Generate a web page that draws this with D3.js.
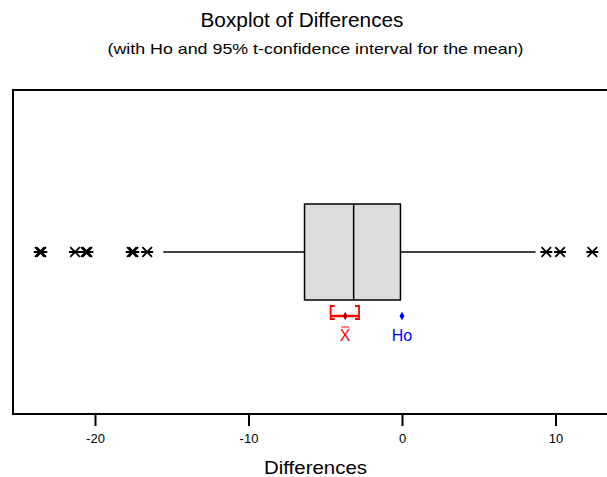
<!DOCTYPE html>
<html>
<head>
<meta charset="utf-8">
<script src="https://cdn.jsdelivr.net/npm/d3@7"></script>
<style>
  html, body { margin: 0; padding: 0; background: #fff; }
  svg { display: block; font-family: "Liberation Sans", Arial, sans-serif; }
</style>
</head>
<body>
<svg id="chart" width="607" height="477"></svg>
<script>
// Five-number summary of the differences
const quartiles = [-6.35, -3.15, -0.1];      // Q1, median, Q3
const whiskers = [-15.55, 8.7];              // lower and upper whisker ends
const outliersLow = [-23.6, -23.5, -21.3, -20.6, -20.5, -17.6, -17.5, -16.6];
const outliersHigh = [9.4, 10.3, 12.4];
// Mean with its 95% t-confidence interval, and the hypothesised mean
const meanValue = [-3.7];
const ciBounds = [-4.65, -2.8];
const hoValue = [0];
const tickValues = [-20, -10, 0, 10];

const svg = d3.select("#chart");

const frame = { left: 13, top: 90, right: 614, bottom: 414 };
const x = d3.scaleLinear().domain([-20, 10]).range([95, 555.5]);
const yBox = 252, boxHalf = 48, yCI = 316;

// Titles
svg.append("text").attr("x", 302).attr("y", 27).attr("text-anchor", "middle")
  .attr("font-size", 20.5).attr("textLength", 203).attr("lengthAdjust", "spacingAndGlyphs")
  .text("Boxplot of Differences");
svg.append("text").attr("x", 315.5).attr("y", 54).attr("text-anchor", "middle")
  .attr("font-size", 15).attr("textLength", 416).attr("lengthAdjust", "spacingAndGlyphs")
  .text("(with Ho and 95% t-confidence interval for the mean)");

// Plot frame
svg.append("rect")
  .attr("x", frame.left).attr("y", frame.top)
  .attr("width", frame.right - frame.left).attr("height", frame.bottom - frame.top)
  .attr("fill", "none").attr("stroke", "#000").attr("stroke-width", 2);

// Bottom axis
const axis = d3.axisBottom(x).tickValues(tickValues).tickSize(12).tickPadding(8)
  .tickFormat(d => String(d));
const gAxis = svg.append("g").attr("transform", `translate(0,${frame.bottom})`).call(axis);
gAxis.select(".domain").remove();
gAxis.selectAll(".tick line").attr("stroke-width", 2);
gAxis.selectAll(".tick text").attr("font-size", 13)
  .attr("font-family", "'Liberation Sans', Arial, sans-serif").attr("fill", "#000");

svg.append("text").attr("x", 315.5).attr("y", 474).attr("text-anchor", "middle")
  .attr("font-size", 19).attr("textLength", 103).attr("lengthAdjust", "spacingAndGlyphs")
  .text("Differences");

// Whiskers
const whiskerLines = [[whiskers[0], quartiles[0]], [quartiles[2], whiskers[1]]];
svg.selectAll(".whisker").data(whiskerLines).enter().append("line")
  .attr("class", "whisker")
  .attr("x1", d => x(d[0])).attr("x2", d => x(d[1]))
  .attr("y1", yBox).attr("y2", yBox)
  .attr("stroke", "#000").attr("stroke-width", 1.5);

// Box
svg.append("rect")
  .attr("x", x(quartiles[0])).attr("y", yBox - boxHalf)
  .attr("width", x(quartiles[2]) - x(quartiles[0])).attr("height", boxHalf * 2)
  .attr("fill", "#dcdcdc").attr("stroke", "#000").attr("stroke-width", 1.5);
svg.append("line")
  .attr("x1", x(quartiles[1])).attr("x2", x(quartiles[1]))
  .attr("y1", yBox - boxHalf).attr("y2", yBox + boxHalf)
  .attr("stroke", "#000").attr("stroke-width", 1.5);

// Outlier asterisks
function star(g, cx, cy) {
  const w = 6, h = 4.8;
  const p = `M${cx - w},${cy}L${cx + w},${cy}` +
            `M${cx - w * 0.8},${cy - h}L${cx + w * 0.8},${cy + h}` +
            `M${cx - w * 0.8},${cy + h}L${cx + w * 0.8},${cy - h}`;
  g.append("path").attr("d", p).attr("stroke", "#000").attr("stroke-width", 1.8)
    .attr("fill", "none");
}
const gOut = svg.append("g");
outliersLow.concat(outliersHigh).forEach(v => star(gOut, x(v), yBox));

// Confidence interval for the mean
const red = "#ff0000";
svg.append("line")
  .attr("x1", x(ciBounds[0])).attr("x2", x(ciBounds[1]))
  .attr("y1", yCI).attr("y2", yCI)
  .attr("stroke", red).attr("stroke-width", 2.4);
ciBounds.forEach((b, i) => {
  const dir = i === 0 ? 1 : -1;
  const bx = x(b);
  svg.append("path")
    .attr("d", `M${bx + dir * 4},${yCI - 10}L${bx},${yCI - 10}L${bx},${yCI + 3}L${bx + dir * 4},${yCI + 3}`)
    .attr("stroke", red).attr("stroke-width", 1.8).attr("fill", "none");
});
svg.selectAll(".meanpt").data(meanValue).enter().append("path")
  .attr("class", "meanpt")
  .attr("d", d3.symbol(d3.symbolDiamond, 20))
  .attr("transform", d => `translate(${x(d)},${yCI})`)
  .attr("fill", "#b00000");

svg.append("text").attr("x", x(meanValue[0])).attr("y", 341)
  .attr("text-anchor", "middle").attr("font-size", 16).attr("fill", red).text("X");
svg.append("line")
  .attr("x1", x(meanValue[0]) - 4).attr("x2", x(meanValue[0]) + 4)
  .attr("y1", 327).attr("y2", 327).attr("stroke", red).attr("stroke-width", 1);

// Hypothesised mean
svg.selectAll(".hopt").data(hoValue).enter().append("path")
  .attr("class", "hopt")
  .attr("d", d3.symbol(d3.symbolDiamond, 22))
  .attr("transform", d => `translate(${x(d)},${yCI})`)
  .attr("fill", "#0000ff");
svg.append("text").attr("x", x(hoValue[0])).attr("y", 341)
  .attr("text-anchor", "middle").attr("font-size", 16).attr("fill", "#0000ff").text("Ho");
</script>
</body>
</html>
